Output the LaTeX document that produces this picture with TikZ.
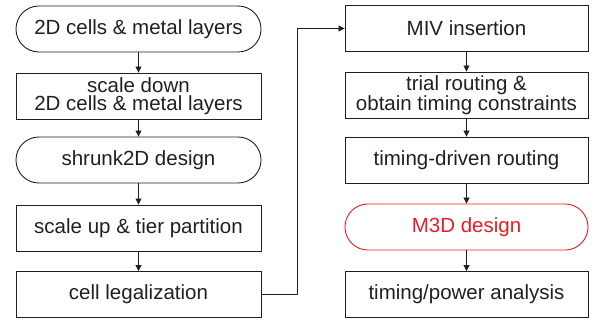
\documentclass[tikz,border=0pt]{standalone}
\usepackage{fontspec}
\setmainfont{Liberation Sans}
\usetikzlibrary{arrows.meta}
\definecolor{ink}{RGB}{35,31,32}
\definecolor{mred}{RGB}{237,28,36}

\begin{document}
\begin{tikzpicture}[x=1pt,y=-1pt,
  stepbox/.style={draw=ink,line width=0.9pt,minimum width=245pt,minimum height=46pt,
    inner sep=0pt,align=center,font=\fontsize{20.5}{18.5}\selectfont,text=ink},
  rstep/.style={stepbox,minimum width=243pt},
  term/.style={rounded corners=22.9pt},
  flow/.style={draw=ink,line width=0.8pt,-{Triangle[length=6pt,width=6pt]}}]
\useasboundingbox (0,0) rectangle (592,322);

% left column
\node[stepbox,term] (l1) at (138.5,29)  {2D cells \& metal layers};
\node[stepbox]      (l2) at (138.5,96)  {scale down\\2D cells \& metal layers};
\node[stepbox,term] (l3) at (138.5,160) {shrunk2D design};
\node[stepbox]      (l4) at (138.5,228) {scale up \& tier partition};
\node[stepbox]      (l5) at (138.5,294.5) {cell legalization};

% right column
\node[rstep] (r1) at (466.5,28.5) {MIV insertion};
\node[rstep] (r2) at (466.5,95)   {trial routing \&\\obtain timing constraints};
\node[rstep] (r3) at (466.5,160)  {timing-driven routing};
\node[rstep,term,draw=mred,text=mred] (r4) at (466.5,227) {M3D design};
\node[rstep] (r5) at (466.5,294.5) {timing/power analysis};

% vertical flow
\draw[flow] (l1) -- (l2);
\draw[flow] (l2) -- (l3);
\draw[flow] (l3) -- (l4);
\draw[flow] (l4) -- (l5);
\draw[flow] (r1) -- (r2);
\draw[flow] (r2) -- (r3);
\draw[flow] (r3) -- (r4);
\draw[flow] (r4) -- (r5);

% hand-over between the columns
\draw[flow] (l5.east) -- ++(36,0) |- (r1.west);
\end{tikzpicture}
\end{document}
